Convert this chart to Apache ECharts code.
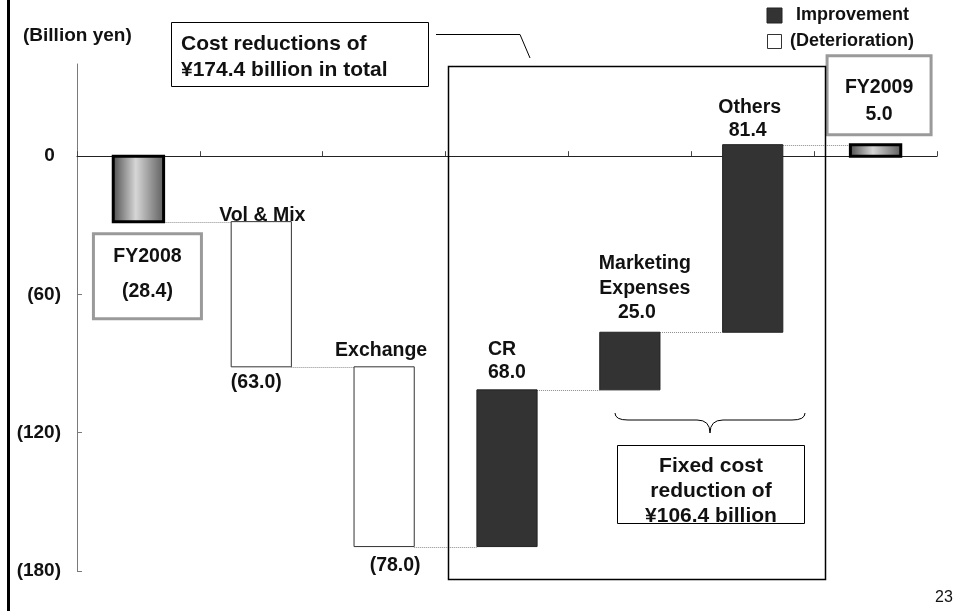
<!DOCTYPE html>
<html>
<head>
<meta charset="utf-8">
<script src="https://cdn.jsdelivr.net/npm/echarts@6/dist/echarts.min.js"></script>
<style>
  html, body { margin: 0; padding: 0; background: #fff; }
  #chart { width: 954px; height: 611px; }
</style>
</head>
<body>
<div id="chart"></div>
<script>
// Operating profit bridge, FY2008 -> FY2009 (billion yen)
const categories = ['FY2008', 'Vol & Mix', 'Exchange', 'CR', 'Marketing Expenses', 'Others', 'FY2009'];
const changes = [-28.4, -63.0, -78.0, 68.0, 25.0, 81.4, 5.0];
const barKinds = ['total', 'change', 'change', 'change', 'change', 'change', 'total'];
const yTickValues = [-180, -120, -60, 0];
const legendNames = ['Improvement', '(Deterioration)'];
const unitLabel = '(Billion yen)';
const totalNote = 'Cost reductions of\n¥174.4 billion in total';
const fixedNote = 'Fixed cost\nreduction of\n¥106.4 billion';
const pageNo = '23';

const FONT = '"Liberation Sans", Arial, sans-serif';
const bold = (px) => 'bold ' + px + 'px ' + FONT;
const LABEL_PX = 19.5;

// Waterfall rows: [index, start, end]
let running = 0;
const rows = categories.map((c, i) => {
  let start, end;
  if (barKinds[i] === 'total') { start = 0; end = changes[i]; }
  else { start = running; end = running + changes[i]; }
  running = end;
  return [i, start, end];
});

const fmt = (v) => v < 0 ? '(' + Math.abs(v).toFixed(1) + ')' : v.toFixed(1);
const axisFmt = (v) => v < 0 ? '(' + Math.abs(v) + ')' : String(v);
const barRatio = (i) => barKinds[i] === 'total' ? 0.41 : 0.49;

function txt(text, x, y, size, align) {
  return {
    type: 'text',
    style: {
      text: text, x: x, y: y, font: bold(size), fill: '#111',
      align: align || 'center', textAlign: align || 'center',
      verticalAlign: 'middle', textVerticalAlign: 'middle'
    }
  };
}

// Annotations placed relative to each bar
function notesFor(i, cx, top, bottom) {
  const name = categories[i];
  const val = fmt(changes[i]);
  const out = [];
  switch (i) {
    case 0: {
      const bx = cx + 9, by = bottom + 12;
      out.push({ type: 'rect', shape: { x: bx - 54, y: by, width: 108, height: 85 },
                 style: { fill: '#fff', stroke: '#9a9a9a', lineWidth: 3 } });
      out.push(txt(name, bx, by + 23, LABEL_PX));
      out.push(txt(val, bx, by + 58, LABEL_PX));
      break;
    }
    case 1:
      out.push(txt(name, cx + 1, top - 6, LABEL_PX));
      out.push(txt(val, cx - 5, bottom + 16, LABEL_PX));
      break;
    case 2:
      out.push(txt(name, cx - 3, top - 16, LABEL_PX));
      out.push(txt(val, cx + 11, bottom + 19, LABEL_PX));
      break;
    case 3:
      out.push(txt(name, cx - 19, top - 40, LABEL_PX, 'left'));
      out.push(txt(val, cx - 19, top - 17, LABEL_PX, 'left'));
      break;
    case 4: {
      const parts = name.split(' ');
      out.push(txt(parts[0], cx + 15, top - 69, LABEL_PX));
      out.push(txt(parts[1], cx + 15, top - 44, LABEL_PX));
      out.push(txt(val, cx + 7, top - 20, LABEL_PX));
      break;
    }
    case 5:
      out.push(txt(name, cx - 3, top - 37, LABEL_PX));
      out.push(txt(val, cx - 5, top - 14, LABEL_PX));
      break;
    case 6: {
      const bx = cx + 3.5, bTop = top - 89;
      out.push({ type: 'rect', shape: { x: bx - 52, y: bTop, width: 104, height: 79 },
                 style: { fill: '#fff', stroke: '#9a9a9a', lineWidth: 3 } });
      out.push(txt(name, bx, bTop + 32, LABEL_PX));
      out.push(txt(val, bx, bTop + 59, LABEL_PX));
      break;
    }
  }
  return out;
}

const totalFill = {
  type: 'linear', x: 0, y: 0, x2: 1, y2: 0,
  colorStops: [
    { offset: 0, color: '#4a4a4a' },
    { offset: 0.45, color: '#d6d6d6' },
    { offset: 1, color: '#5a5a5a' }
  ]
};

function renderItem(params, api) {
  const i = api.value(0);
  const s = api.value(1), e = api.value(2);
  const band = api.size([1, 0])[0];
  const w = band * barRatio(i);
  const pS = api.coord([i, s]);
  const pE = api.coord([i, e]);
  const cx = pS[0];
  const top = Math.min(pS[1], pE[1]);
  const bottom = Math.max(pS[1], pE[1]);

  let style;
  if (barKinds[i] === 'total') {
    style = { fill: totalFill, stroke: '#000', lineWidth: 3 };
  } else if (changes[i] > 0) {
    style = { fill: '#333333', stroke: '#222', lineWidth: 1 };
  } else {
    style = { fill: '#ffffff', stroke: '#333', lineWidth: 1 };
  }

  const children = [];
  // dotted connector to the next bar
  if (i < categories.length - 1) {
    const nextHalf = band * barRatio(i + 1) / 2;
    const yy = Math.round(pE[1]) + 0.5;
    children.push({
      type: 'line',
      shape: { x1: cx + w / 2, y1: yy, x2: cx + band - nextHalf, y2: yy },
      style: { stroke: '#8c8c8c', lineWidth: 1, lineDash: [1, 1] }
    });
  }
  children.push({
    type: 'rect',
    shape: { x: cx - w / 2, y: top, width: w, height: bottom - top },
    style: style
  });
  notesFor(i, cx, top, bottom).forEach(n => children.push(n));
  return { type: 'group', children: children };
}

const chart = echarts.init(document.getElementById('chart'), null, { renderer: 'canvas' });

const thin = { stroke: '#000', lineWidth: 1, fill: null };
const graphics = [
  // left page rule
  { type: 'rect', shape: { x: 7, y: 0, width: 3, height: 611 }, style: { fill: '#000' } },
  // unit label
  { type: 'text', style: { text: unitLabel, x: 23, y: 36, font: bold(19), fill: '#111',
      align: 'left', textAlign: 'left', verticalAlign: 'middle', textVerticalAlign: 'middle' } },
  // cost reductions call-out
  { type: 'rect', shape: { x: 171.5, y: 22.5, width: 257, height: 64 },
    style: { fill: '#fff', stroke: '#000', lineWidth: 1 } },
  { type: 'text', style: { text: totalNote, x: 181, y: 31, font: bold(21), fill: '#111', lineHeight: 26,
      align: 'left', textAlign: 'left', verticalAlign: 'top', textVerticalAlign: 'top' } },
  { type: 'polyline', shape: { points: [[436, 34.5], [520, 34.5], [530, 58]] }, style: thin },
  // frame around the cost reduction items
  { type: 'rect', shape: { x: 448.5, y: 66.5, width: 377, height: 513 },
    style: { fill: null, stroke: '#000', lineWidth: 1.5 }, z: 100 },
  // brace under marketing / others
  { type: 'bezierCurve', shape: { x1: 615, y1: 413, cpx1: 615, cpy1: 420, x2: 628, y2: 420 }, style: thin },
  { type: 'line', shape: { x1: 628, y1: 420, x2: 697, y2: 420 }, style: thin },
  { type: 'bezierCurve', shape: { x1: 697, y1: 420, cpx1: 710, cpy1: 420, x2: 710, y2: 433 }, style: thin },
  { type: 'bezierCurve', shape: { x1: 710, y1: 433, cpx1: 710, cpy1: 420, x2: 723, y2: 420 }, style: thin },
  { type: 'line', shape: { x1: 723, y1: 420, x2: 792, y2: 420 }, style: thin },
  { type: 'bezierCurve', shape: { x1: 792, y1: 420, cpx1: 805, cpy1: 420, x2: 805, y2: 413 }, style: thin },
  { type: 'rect', shape: { x: 617.5, y: 445.5, width: 187, height: 78 },
    style: { fill: '#fff', stroke: '#000', lineWidth: 1 } },
  { type: 'text', style: { text: fixedNote, x: 711, y: 454, font: bold(21), fill: '#111', lineHeight: 25,
      align: 'center', textAlign: 'center', verticalAlign: 'top', textVerticalAlign: 'top' } },
  // legend
  { type: 'rect', shape: { x: 767, y: 8, width: 15, height: 15 },
    style: { fill: '#333', stroke: '#222', lineWidth: 1 } },
  { type: 'text', style: { text: legendNames[0], x: 796, y: 15, font: bold(18), fill: '#111',
      align: 'left', textAlign: 'left', verticalAlign: 'middle', textVerticalAlign: 'middle' } },
  { type: 'rect', shape: { x: 767.5, y: 34.5, width: 14, height: 14 },
    style: { fill: '#fff', stroke: '#333', lineWidth: 1 } },
  { type: 'text', style: { text: legendNames[1], x: 790, y: 41, font: bold(18), fill: '#111',
      align: 'left', textAlign: 'left', verticalAlign: 'middle', textVerticalAlign: 'middle' } },
  // page number
  { type: 'text', style: { text: pageNo, x: 935, y: 598, font: '16px ' + FONT, fill: '#111',
      align: 'left', textAlign: 'left', verticalAlign: 'middle', textVerticalAlign: 'middle' } }
];

chart.setOption({
  animation: false,
  backgroundColor: '#fff',
  grid: { left: 77, right: 17, top: 64, bottom: 40, containLabel: false },
  xAxis: {
    type: 'category',
    data: categories,
    boundaryGap: true,
    axisLine: { onZero: true, lineStyle: { color: '#222', width: 1 } },
    axisTick: { show: true, inside: true, length: 5, interval: 0, lineStyle: { color: '#444' } },
    axisLabel: { show: false },
    splitLine: { show: false }
  },
  yAxis: {
    type: 'value',
    min: -180,
    max: 40,
    interval: 60,
    axisLine: { show: true, lineStyle: { color: '#7a7a7a', width: 1 } },
    axisTick: { show: true, inside: true, length: 5, customValues: yTickValues,
                lineStyle: { color: '#7a7a7a' } },
    axisLabel: {
      customValues: yTickValues,
      showMaxLabel: false,
      margin: 16,
      color: '#111',
      fontFamily: FONT,
      fontWeight: 'bold',
      fontSize: 19,
      // the zero label sits on the category axis line and is drawn separately below
      formatter: (v) => (v < 0 ? axisFmt(v) : '')
    },
    splitLine: { show: false }
  },
  series: [{
    type: 'custom',
    renderItem: renderItem,
    data: rows,
    encode: { x: 0, y: [1, 2] },
    clip: false
  }],
  graphic: graphics
});

// zero label of the value axis, right-aligned with room for a closing bracket
const zeroPos = chart.convertToPixel({ yAxisIndex: 0 }, 0);
const axisX = chart.convertToPixel({ xAxisIndex: 0 }, 0) - chart.getModel().getComponent('xAxis', 0).axis.getBandWidth() / 2;
chart.setOption({
  graphic: graphics.concat([{
    type: 'text',
    style: { text: axisFmt(yTickValues[3]), x: axisX - 16 - 6.3, y: zeroPos, font: bold(19), fill: '#111',
      align: 'right', textAlign: 'right', verticalAlign: 'middle', textVerticalAlign: 'middle' }
  }])
});
</script>
</body>
</html>
